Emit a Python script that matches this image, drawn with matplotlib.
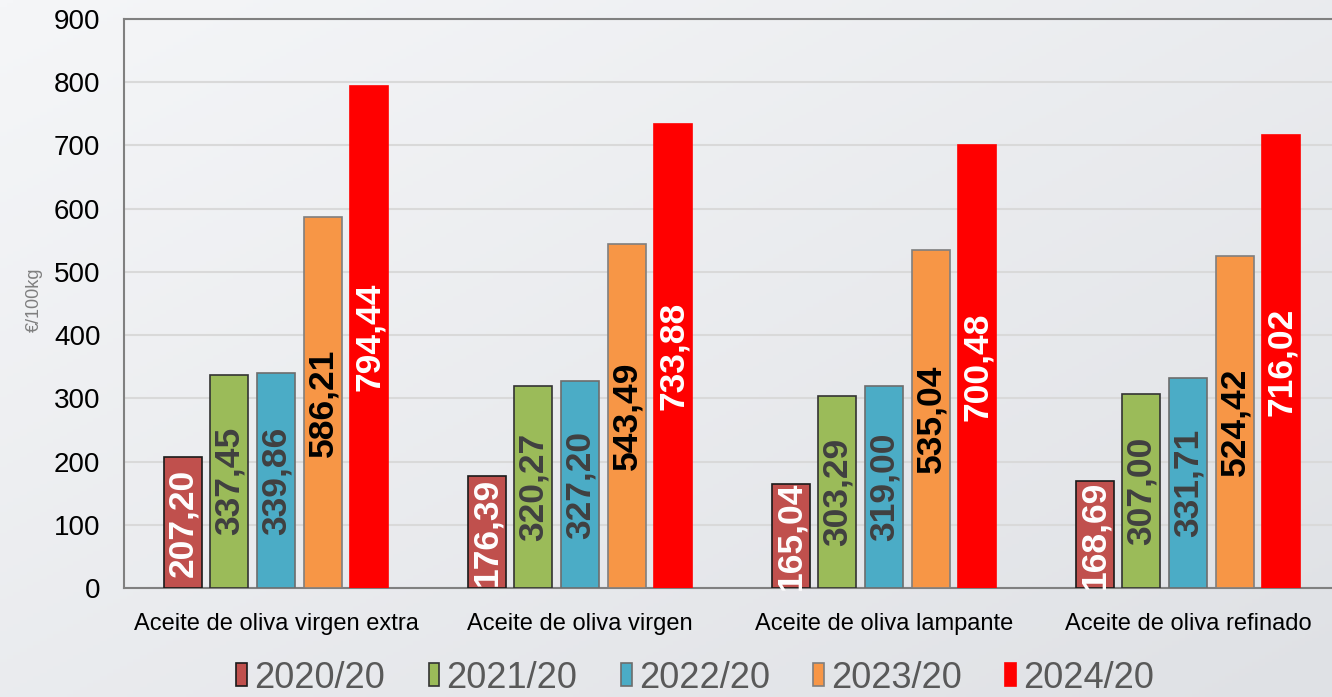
import numpy as np
import matplotlib
matplotlib.use('Agg')
import matplotlib.pyplot as plt
from matplotlib.patches import Patch

# Precios medios del aceite de oliva (€/100kg)
categories = ['Aceite de oliva virgen extra', 'Aceite de oliva virgen',
              'Aceite de oliva lampante', 'Aceite de oliva refinado']
seasons = ['2020/20', '2021/20', '2022/20', '2023/20', '2024/20']
v2020 = [207.20, 176.39, 165.04, 168.69]
v2021 = [337.45, 320.27, 303.29, 307.00]
v2022 = [339.86, 327.20, 319.00, 331.71]
v2023 = [586.21, 543.49, 535.04, 524.42]
v2024 = [794.44, 733.88, 700.48, 716.02]
series = [v2020, v2021, v2022, v2023, v2024]

colors = ['#c0504d', '#9bbb59', '#4bacc6', '#f79646', '#ff0000']
edges = ['#1a1a1a', '#333333', '#6d6d6d', '#7f7f7f', '#ff0000']
label_colors = ['white', '#404040', '#404040', 'black', 'white']

plt.rcParams['font.family'] = ['Liberation Sans', 'DejaVu Sans']

fig = plt.figure(figsize=(13.32, 6.97), dpi=100)

# soft grey gradient background
bg = fig.add_axes([0, 0, 1, 1], zorder=-1)
gx, gy = np.meshgrid(np.linspace(0, 1, 200), np.linspace(0, 1, 200))
g = 0.5 * gx + 0.5 * gy
bg.imshow(g, cmap=matplotlib.colors.LinearSegmentedColormap.from_list(
    'bg', ['#f5f6f8', '#dfe1e5']), aspect='auto', extent=[0, 1, 0, 1], origin='upper')
bg.axis('off')

ax = fig.add_axes([0.0931, 0.1564, 0.9129, 0.8163])
ax.set_facecolor('none')

x = np.arange(len(categories))
width = 0.125
step = 0.153
for i, vals in enumerate(series):
    pos = x + (i - 2) * step
    bars = ax.bar(pos, vals, width, color=colors[i], edgecolor=edges[i],
                  linewidth=1.2, label=seasons[i], zorder=3)
    for b, v in zip(bars, vals):
        ax.text(b.get_x() + b.get_width() / 2, v / 2,
                f'{v:.2f}'.replace('.', ','), rotation=90,
                ha='center', va='center', fontsize=25.5, fontweight='bold',
                color=label_colors[i], zorder=4)

ax.set_xlim(-0.5, 3.5)
ax.set_ylim(0, 900)
ax.set_yticks(range(0, 901, 100))
ax.tick_params(axis='y', length=0, pad=17, labelsize=20)
ax.tick_params(axis='x', length=0, pad=18, labelsize=17)
ax.set_xticks(x)
ax.set_xticklabels(categories)
ax.grid(axis='y', color='#d9d9d9', linewidth=1.5, zorder=0)
ax.set_ylabel('€/100kg', fontsize=13, color='#7f7f7f')
ax.yaxis.set_label_coords(-0.067, 0.506)

for s in ['left', 'top', 'bottom']:
    ax.spines[s].set_color('#808080')
    ax.spines[s].set_linewidth(1.5)
ax.spines['right'].set_visible(False)

handles = [Patch(facecolor=colors[i], edgecolor=edges[i], linewidth=1.2)
           for i in range(5)]
leg = fig.legend(handles, seasons, loc='center', bbox_to_anchor=(0.522, 0.027),
                 ncol=5, frameon=False, handlelength=0.3, handleheight=0.6,
                 handletextpad=0.2, columnspacing=1.2,
                 prop={'size': 26})
for t in leg.get_texts():
    t.set_color('#595959')

fig.savefig('out.png', dpi=100)
